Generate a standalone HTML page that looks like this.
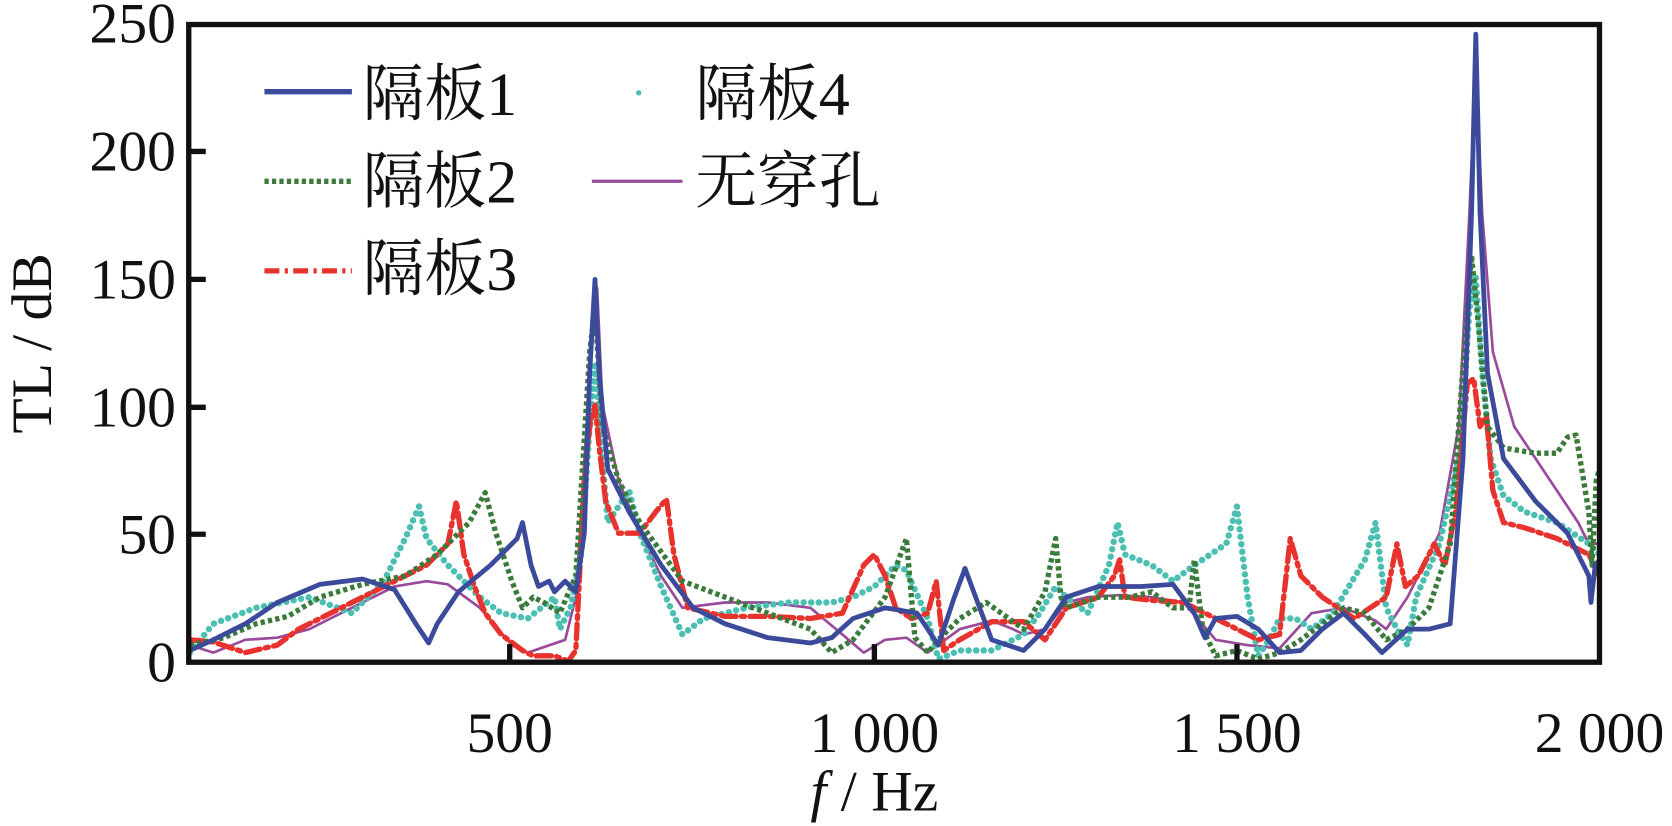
<!DOCTYPE html>
<html><head><meta charset="utf-8"><style>
html,body{margin:0;padding:0;background:#fff;}
svg{display:block;}
text{font-family:"Liberation Serif","Noto Serif CJK SC",serif;fill:#111;}
</style></head><body>
<svg width="1672" height="826" viewBox="0 0 1568 774.6" preserveAspectRatio="none">
<g fill="none" stroke-linejoin="round" stroke-linecap="round">
<polyline stroke="#9a4a9a" stroke-width="2.5" points="178,605 200,612 230,600 260,598 290,590 310,580 340,565 370,550 400,545 420,548 450,570 480,605 495,612 530,600 540,560 550,400 555,300 560,270 565,380 580,450 600,500 620,540 640,570 680,565 720,565 760,570 790,595 810,612 830,600 850,598 870,612 900,590 930,582 950,590 960,595 980,590 1000,565 1020,560 1050,558 1080,560 1110,565 1140,600 1170,605 1200,608 1230,575 1260,570 1290,582 1300,590 1320,560 1350,500 1368,400 1378,200 1384,60 1390,200 1400,330 1420,400 1440,430 1460,460 1480,490 1490,510 1500,510"/>
<polyline stroke="#4bbfb2" stroke-width="6" stroke-dasharray="0.1 7" points="178,612 200,585 240,570 290,560 330,575 360,545 380,505 393,475 400,505 420,530 450,560 470,575 495,580 520,560 525,590 535,570 545,520 553,400 558,340 564,420 570,490 580,475 590,460 600,500 620,550 640,595 660,580 700,570 740,565 780,565 800,560 820,550 840,530 850,535 870,580 880,618 900,610 930,610 960,595 975,575 990,550 1000,560 1020,575 1040,530 1048,490 1055,520 1080,530 1100,545 1120,530 1150,510 1160,475 1170,560 1180,615 1190,600 1200,580 1215,580 1230,590 1250,575 1280,525 1290,490 1300,570 1310,590 1320,605 1328,560 1350,510 1370,420 1378,290 1384,260 1390,350 1398,430 1410,465 1430,480 1460,490 1490,510 1500,520"/>
<polyline stroke="#e8322e" stroke-width="5" stroke-dasharray="14 5 3 5" points="178,600 200,602 230,612 260,605 280,590 320,570 360,550 400,530 420,510 428,470 435,520 445,550 455,575 470,595 490,610 500,615 520,615 533,620 540,610 548,450 553,400 558,380 562,420 568,470 580,500 600,500 615,480 625,468 632,520 645,570 680,578 720,578 760,580 790,575 810,530 820,520 830,540 840,570 855,580 870,575 878,545 885,610 900,600 930,583 960,583 980,600 1000,570 1030,560 1045,540 1050,525 1055,560 1080,563 1110,565 1150,585 1180,600 1200,595 1210,505 1220,540 1240,560 1270,580 1300,560 1310,510 1318,550 1330,540 1345,510 1355,530 1365,480 1376,360 1382,355 1388,400 1394,390 1400,460 1410,490 1430,495 1460,505 1490,520 1500,540"/>
<polyline stroke="#3a7a3a" stroke-width="5" stroke-dasharray="4 3" stroke-linecap="butt" points="178,605 210,598 240,585 270,578 300,560 340,548 380,540 410,520 440,490 455,462 465,500 480,545 490,570 500,560 510,565 525,575 540,540 553,330 558,290 565,400 580,450 600,490 640,545 680,560 720,575 760,590 780,612 800,600 830,560 850,505 858,598 870,612 880,600 900,580 925,565 960,590 980,555 990,505 995,560 1000,570 1030,560 1060,560 1080,555 1100,570 1115,570 1120,525 1128,590 1140,615 1160,610 1180,618 1200,612 1220,600 1240,585 1260,570 1280,575 1300,600 1320,590 1340,570 1360,510 1373,330 1380,240 1386,300 1395,400 1410,420 1440,425 1460,425 1470,410 1478,408 1485,450 1490,480 1493,530 1497,450 1500,440"/>
<polyline stroke="#3b4a9a" stroke-width="4.5" points="178,610 200,600 230,585 260,565 300,548 340,543 370,553 390,585 402,603 410,585 430,555 460,530 485,505 490,490 498,530 505,550 515,545 520,555 530,545 540,555 548,500 553,350 558,262 562,350 570,440 590,480 620,530 650,570 680,585 720,598 760,603 780,598 800,580 830,570 860,575 880,605 885,590 895,560 905,533 915,560 930,600 960,610 980,590 1000,560 1030,550 1070,550 1100,548 1120,575 1130,598 1140,580 1160,578 1180,590 1200,612 1220,610 1240,590 1260,575 1280,595 1296,612 1320,590 1340,590 1360,585 1372,430 1380,200 1384,32 1388,200 1395,350 1410,430 1440,470 1470,500 1490,540 1492,565 1496,530 1500,525"/>
</g>
<rect x="0" y="623" width="1568" height="152" fill="#fff"/>
<g stroke="#111" stroke-width="5" fill="none">
<rect x="177" y="23" width="1323" height="598"/>
<line x1="177" y1="142" x2="193" y2="142"/><line x1="177" y1="262" x2="193" y2="262"/>
<line x1="177" y1="382" x2="193" y2="382"/><line x1="177" y1="501" x2="193" y2="501"/>
<line x1="478" y1="621" x2="478" y2="604"/><line x1="820" y1="621" x2="820" y2="604"/><line x1="1160" y1="621" x2="1160" y2="604"/>
</g>
<g font-size="54" text-anchor="end">
<text x="165" y="40">250</text><text x="165" y="160">200</text><text x="165" y="280">150</text>
<text x="165" y="400">100</text><text x="165" y="519">50</text><text x="165" y="639">0</text>
</g>
<g font-size="54" text-anchor="middle">
<text x="478" y="705">500</text><text x="820" y="705">1 000</text><text x="1160" y="705">1 500</text><text x="1500" y="705">2 000</text>
<text x="820" y="760"><tspan font-style="italic">f</tspan> / Hz</text>
<text transform="translate(48,322) rotate(-90)">TL / dB</text>
</g>
<g stroke-width="5">
<line x1="248" y1="86" x2="330" y2="86" stroke="#3b4a9a"/>
<line x1="248" y1="170" x2="330" y2="170" stroke="#3a7a3a" stroke-dasharray="4 3"/>
<line x1="248" y1="254" x2="330" y2="254" stroke="#e8322e" stroke-dasharray="14 5 3 5"/>
<line x1="555" y1="170" x2="640" y2="170" stroke="#9a4a9a" stroke-width="3"/>
</g>
<circle cx="599" cy="87" r="2.5" fill="#4bbfb2"/>
<g font-size="58">
<text x="340" y="108">隔板1</text><text x="340" y="190">隔板2</text><text x="340" y="272">隔板3</text>
<text x="652" y="108">隔板4</text><text x="652" y="190">无穿孔</text>
</g>
</svg>
</body></html>
